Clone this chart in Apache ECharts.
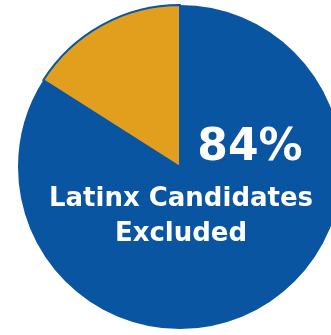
<!DOCTYPE html>
<html>
<head>
<meta charset="utf-8">
<script src="https://cdn.jsdelivr.net/npm/echarts@6/dist/echarts.min.js"></script>
<style>
  html, body { margin: 0; padding: 0; background: #ffffff; }
  #chart { width: 331px; height: 335px; }
</style>
</head>
<body>
<div id="chart"></div>
<script>
// Share of candidates, in percent
const categories = ['Excluded', 'Included'];
const values = [84, 16];
const sliceColors = ['#0A55A2', '#E29E1D'];
const headline = '84%';
const captionLines = ['Latinx Candidates', 'Excluded'];

const chart = echarts.init(document.getElementById('chart'), null, { renderer: 'canvas' });

const FONT = '"DejaVu Sans", sans-serif';

function whiteText(text, x, y, size, align) {
  return {
    type: 'text',
    z: 100,
    x: x, y: y,
    style: {
      text: text,
      fill: '#ffffff',
      fontFamily: FONT,
      fontWeight: 'bold',
      fontSize: size,
      align: align,
      verticalAlign: 'middle'
    }
  };
}

chart.setOption({
  animation: false,
  backgroundColor: '#ffffff',
  series: [{
    type: 'pie',
    center: [180, 167],
    radius: [0, 162],
    startAngle: 90,
    clockwise: true,
    label: { show: false },
    labelLine: { show: false },
    emphasis: { disabled: true },
    data: categories.map((name, i) => ({
      name: name,
      value: values[i],
      itemStyle: {
        color: sliceColors[i],
        borderColor: '#0A55A2',
        borderWidth: i === 1 ? 2 : 0
      }
    }))
  }],
  graphic: [
    whiteText(headline, 250, 149, 44, 'center'),
    whiteText(captionLines[0], 181, 199, 26, 'center'),
    whiteText(captionLines[1], 181, 234, 26, 'center')
  ]
});
</script>
</body>
</html>
